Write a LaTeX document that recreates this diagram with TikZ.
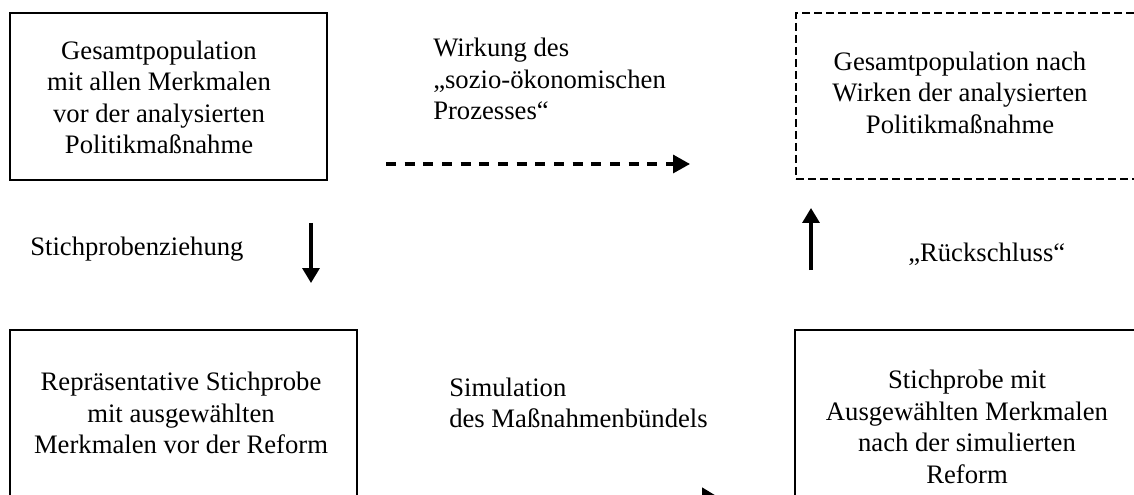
\documentclass[tikz,border=0pt]{standalone}
\usepackage{fontspec}
\setmainfont{Liberation Serif}
\usetikzlibrary{arrows.meta}
\begin{document}
\begin{tikzpicture}[x=0.75pt,y=-0.75pt,
  frame/.style={draw, line width=1.4pt, inner sep=0pt},
  dframe/.style={draw, line width=1.7pt, dash pattern=on 6pt off 3pt, inner sep=0pt},
  txt/.style={font=\fontsize{20pt}{23.6pt}\selectfont, inner sep=0pt, align=center},
  ltxt/.style={font=\fontsize{20pt}{23.6pt}\selectfont, inner sep=0pt, align=left},
  arr/.style={line width=2.5pt, -{Triangle[length=11.25pt,width=12.75pt]}},
  darr/.style={line width=2.5pt, dash pattern=on 7.5pt off 6.5pt, -{Triangle[length=12.75pt,width=13.5pt]}},
]
\useasboundingbox (0,0) rectangle (1134,495);
\clip (0,0) rectangle (1134,495);

% frames
\node[frame, minimum width=237.75pt, minimum height=125.25pt] (box1) at (168.5,96.5) {};
\node[dframe, minimum width=258pt, minimum height=124.5pt] (box2) at (968,96) {};
\node[frame, minimum width=260.25pt, minimum height=157.5pt] (box3) at (183.5,435) {};
\node[frame, minimum width=258.75pt, minimum height=157.5pt] (box4) at (967.5,435) {};

% texts in frames
\node[txt] (t1) at (159,97.2) {Gesamtpopulation\\mit allen Merkmalen\\vor der analysierten\\Politikmaßnahme};
\node[txt] (t2) at (960,92.5) {Gesamtpopulation nach\\Wirken der analysierten\\Politikmaßnahme};
\node[txt] (t3) at (181,413) {Repräsentative Stichprobe\\mit ausgewählten\\Merkmalen vor der Reform};
\node[txt] (t4) at (967,426.8) {Stichprobe mit\\Ausgewählten Merkmalen\\nach der simulierten\\Reform};

% labels
\node[ltxt, anchor=west] (w1) at (433,79.3) {Wirkung des\\„sozio-ökonomischen\\Prozesses“};
\node[ltxt, anchor=west] (s1) at (449,402.8) {Simulation\\des Maßnahmenbündels};
\node[ltxt, anchor=base west] (l1) at (30,255) {Stichprobenziehung};
\node[ltxt, anchor=base west] (l2) at (908,262) {„Rückschluss“};

% connectors
\coordinate (da) at (386,164);
\coordinate (db) at (690,164);
\draw[darr] (da) -- (db);
\coordinate (sa) at (311,223);
\coordinate (sb) at (311,283);
\draw[arr] (sa) -- (sb);
\coordinate (ra) at (811,270);
\coordinate (rb) at (811,208);
\draw[arr] (ra) -- (rb);
\coordinate (ma) at (447,496.3);
\coordinate (mb) at (717,496.3);
\draw[arr] (ma) -- (mb);
\end{tikzpicture}
\end{document}
